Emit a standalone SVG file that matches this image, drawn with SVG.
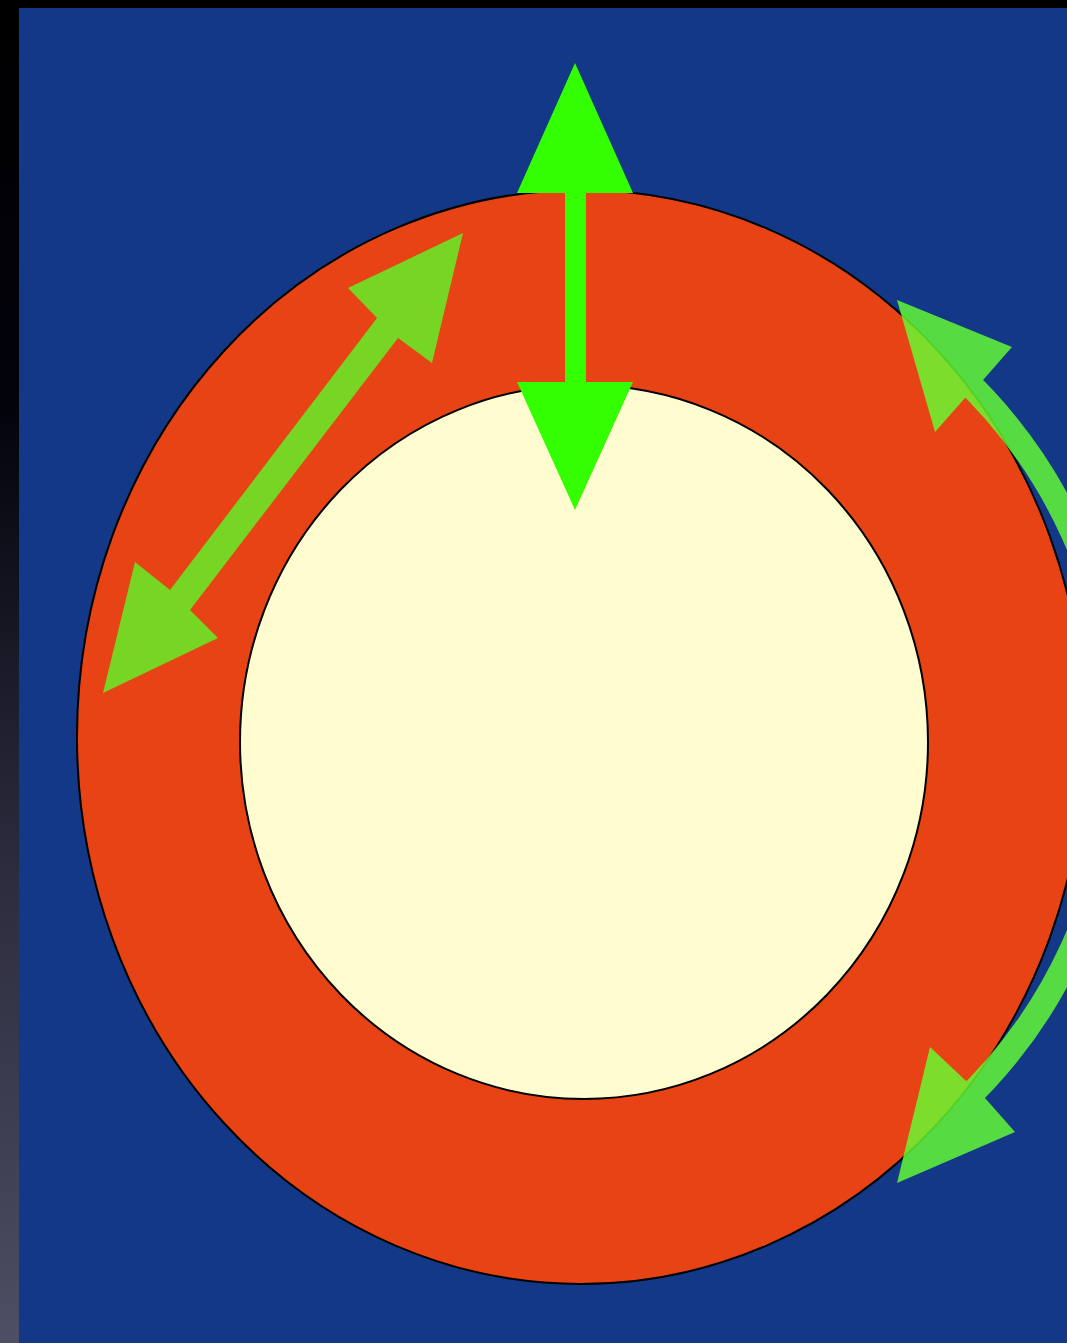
<svg xmlns="http://www.w3.org/2000/svg" width="1067" height="1343" viewBox="0 0 1067 1343">
  <defs>
    <linearGradient id="side" x1="0" y1="0" x2="0" y2="1">
      <stop offset="0" stop-color="#000000"/>
      <stop offset="0.3" stop-color="#03030c"/>
      <stop offset="0.65" stop-color="#2c2c3e"/>
      <stop offset="1" stop-color="#4e4e64"/>
    </linearGradient>
  </defs>
  <style>
    .ring { fill: #E84314; stroke: #000; stroke-width: 2; }
    .core { fill: #FFFDD0; stroke: #000; stroke-width: 2; }
  </style>
  <rect x="0" y="0" width="1067" height="1343" fill="url(#side)"/>
  <rect x="0" y="0" width="1067" height="8" fill="#000"/>
  <rect x="19" y="8" width="1048" height="1335" fill="#133887"/>

  <g id="outer-ring">
    <ellipse class="ring" cx="581" cy="737" rx="504" ry="547"/>
  </g>
  <g id="inner-core">
    <ellipse class="core" cx="584" cy="742" rx="344" ry="357"/>
  </g>

  <g id="connectors">
    <g id="radial-arrow">
      <polygon fill="#33FF00" points="575,63 633,193 586,193 586,382 633,382 575,510 517,382 565,382 565,193 517,193"/>
    </g>
    <g id="diagonal-arrow">
      <polygon fill="#77D523" points="463,233 432,363 398,338 190,610 218,638 103,693 135,562 170,590 377,318 348,288"/>
    </g>
    <g id="curved-arrow" opacity="0.82">
      <path d="M 958 373 A 501 501 0 0 1 958 1107" fill="none" stroke="#66FF33" stroke-width="25"/>
      <polygon fill="#66FF33" points="897,300 1012,347 983,380 965,398 935,432"/>
      <polygon fill="#66FF33" points="897,1183 930,1047 965,1080 985,1098 1015,1132"/>
    </g>
  </g>
</svg>
